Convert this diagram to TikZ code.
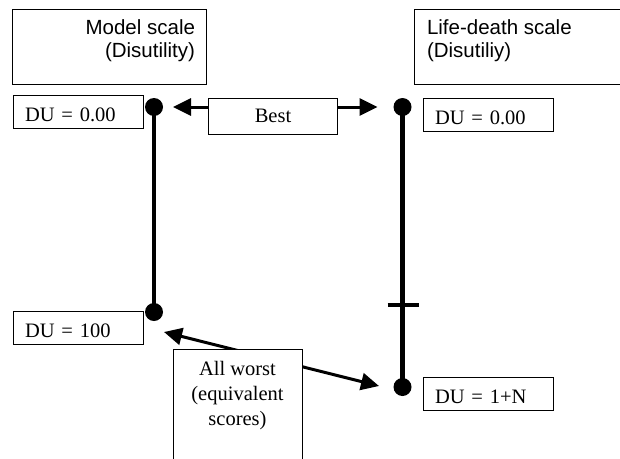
\documentclass[tikz,border=0pt]{standalone}
\usepackage{fontspec}
\setmainfont{Liberation Serif}
\setsansfont{Liberation Sans}
\usepackage{tikz}
\usetikzlibrary{positioning,arrows.meta}

\begin{document}
\begin{tikzpicture}[x=1pt,y=-1pt,
    every node/.style={inner sep=0pt,outer sep=0pt},
    headbox/.style={draw,line width=0.8pt,anchor=north west,minimum width=194pt,minimum height=75pt},
    headtext/.style={font=\sffamily\fontsize{20.5}{23}\selectfont},
    dubox/.style={draw,line width=0.8pt,anchor=north west,minimum height=33pt,
      text width=106pt,inner xsep=12pt,text height=20pt,text depth=0pt,
      font=\fontsize{20.5}{25}\selectfont},
    notebox/.style={draw,line width=0.8pt,fill=white,minimum width=129pt},
    notetext/.style={align=center,font=\fontsize{20.5}{25}\selectfont},
    scaledot/.style={circle,fill=black,minimum size=18pt},
    scaleline/.style={line width=4.5pt},
    dblarrow/.style={line width=3pt,{Triangle[length=18pt,width=17pt]}-{Triangle[length=18pt,width=17pt]}}]
  \useasboundingbox (0,0) rectangle (620,458);
  \clip (0,0) rectangle (620,458);

  \node[headbox] (modelhead) at (12.5,9) {};
  \node[headtext,align=right,anchor=north east] (modeltxt) at (195,19.5) {Model scale\\(Disutility)};
  \node[headbox,minimum width=220pt] (lifehead) at (414,9) {};
  \node[headtext,align=left,anchor=north west] (lifetxt) at (427,19.5) {Life-death scale\\(Disutiliy)};

  \node[scaledot] (mtop) at (154,107) {};
  \node[scaledot] (mbot) at (154,312) {};
  \node[scaledot] (ltop) at (402.5,107) {};
  \node[scaledot] (lbot) at (402.5,387) {};
  \coordinate (tick) at (402.5,305);
  \coordinate (wleft) at (164,332);
  \coordinate (wright) at (379,386);

  \draw[scaleline] (mtop.center) -- (mbot.center);
  \draw[scaleline] (ltop.center) -- (lbot.center);
  \draw[line width=4pt] ([xshift=-15pt]tick) -- ([xshift=16pt]tick);

  \draw[dblarrow,shorten <=10pt,shorten >=16pt] (mtop) -- (ltop);
  \draw[dblarrow] (wleft) -- (wright);

  \node[dubox] (mbest) at (13,95) {DU = 0.00};
  \node[dubox] (lbest) at (423,98) {DU = 0.00};
  \node[dubox] (mworst) at (13,311) {DU = 100};
  \node[dubox] (lworst) at (423,377) {DU = 1+N};

  \node[notebox,minimum height=36pt] (best) at (273,116) {\fontsize{20.5}{25}\selectfont Best};
  \node[notebox,minimum height=140pt,anchor=north] (worst) at (237.5,349) {};
  \node[notetext,below=12.5pt of worst.north] (worsttxt) {All worst\\(equivalent\\scores)};
\end{tikzpicture}
\end{document}
